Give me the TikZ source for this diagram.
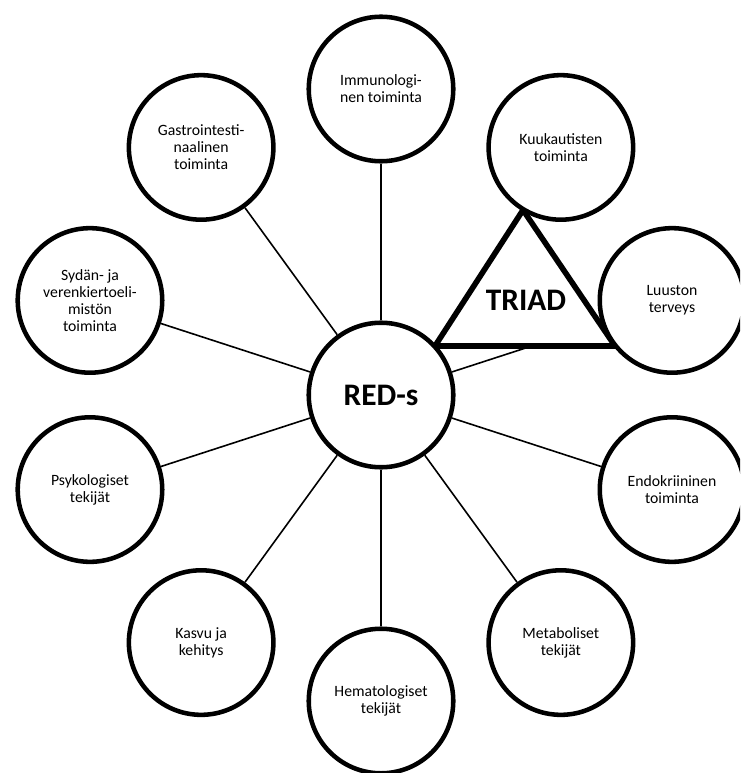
\documentclass[tikz,border=0pt]{standalone}
\usepackage{fontspec}
\setmainfont{Carlito}
\usetikzlibrary{calc}
\pgfdeclarelayer{bg}
\pgfsetlayers{bg,main}
\begin{document}
\begin{tikzpicture}[x=0.75pt,y=0.75pt,
  circ/.style={circle, draw, line width=3.4pt, fill=white, minimum size=108.4pt,
    inner sep=0pt, align=center, font=\fontsize{11.8}{12.7}\selectfont},
  bigtxt/.style={font=\fontsize{23.5}{28}\selectfont\bfseries},
  conn/.style={line width=1.2pt},
  tri/.style={line width=4.2pt, fill=white, line join=miter}]
\useasboundingbox (0,0) rectangle (740,-773);
\clip (0,0) rectangle (740,-773);
\coordinate (c) at (381,-395);
\node[circ, bigtxt] (red) at (c) {RED-s};
\node[circ] (imm) at ($(c)+(90:306)$) {Immunologi-\\nen toiminta};
\node[circ] (kuu) at ($(c)+(54:306)$) {Kuukautisten\\toiminta};
\node[circ] (luu) at ($(c)+(18:306)$) {Luuston\\terveys};
\node[circ] (end) at ($(c)+(-18:306)$) {Endokriininen\\toiminta};
\node[circ] (met) at ($(c)+(-54:306)$) {Metaboliset\\tekijät};
\node[circ] (hem) at ($(c)+(-90:306)$) {Hematologiset\\tekijät};
\node[circ] (kas) at ($(c)+(234:306)$) {Kasvu ja\\kehitys};
\node[circ] (psy) at ($(c)+(198:306)$) {Psykologiset\\tekijät};
\node[circ] (syd) at ($(c)+(162:306)$) {Sydän- ja\\verenkiertoeli-\\mistön\\toiminta};
\node[circ] (gas) at ($(c)+(126:306)$) {Gastrointesti-\\naalinen\\toiminta};
\coordinate (ta) at (523,-210);
\coordinate (tl) at (435,-346);
\coordinate (tr) at (615,-346);
\begin{pgfonlayer}{bg}
  \foreach \n in {imm,luu,end,met,hem,kas,psy,syd,gas}
    \draw[conn] (red) -- (\n);
  \draw[tri] (ta) -- (tr) -- (tl) -- cycle;
\end{pgfonlayer}
\node[bigtxt] (triad) at (526,-300) {TRIAD};
\end{tikzpicture}
\end{document}
